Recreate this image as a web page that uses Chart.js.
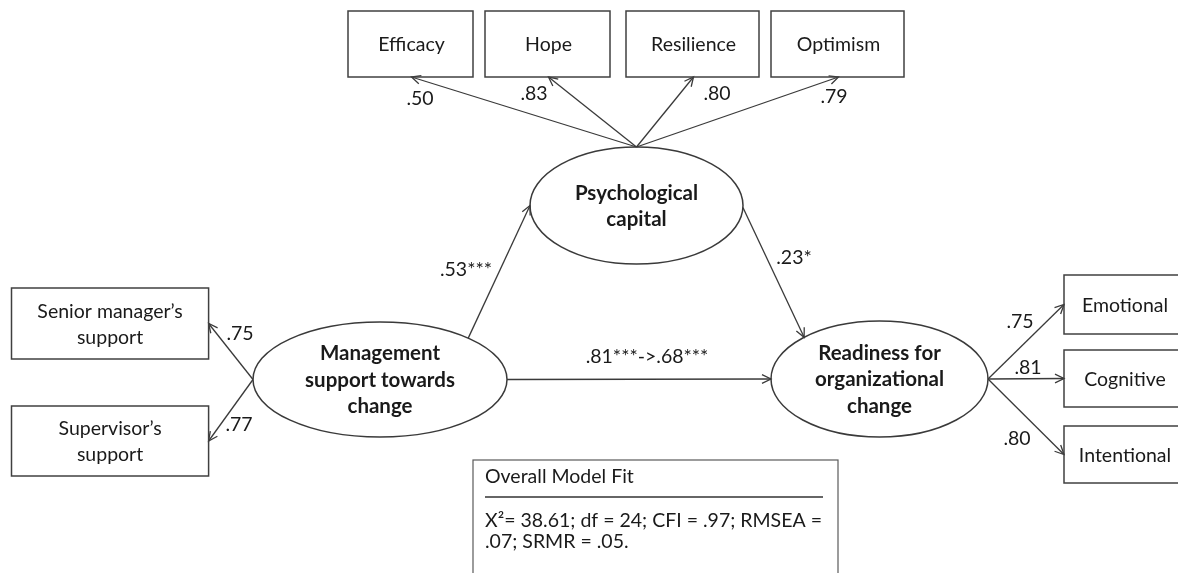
<!DOCTYPE html>
<html>
<head>
<meta charset="utf-8">
<script src="https://cdn.jsdelivr.net/npm/chart.js@4.4.1/dist/chart.umd.min.js"></script>
<style>
  html, body { margin: 0; padding: 0; background: #ffffff; }
  #wrap { width: 1178px; height: 573px; }
</style>
</head>
<body>
<div id="wrap"><canvas id="c" width="1178" height="573"></canvas></div>
<script>
// ---------------- DATA ----------------
const latentNames = {
  psy: ['Psychological', 'capital'],
  mgmt: ['Management', 'support towards', 'change'],
  ready: ['Readiness for', 'organizational', 'change']
};
const psyIndicators = ['Efficacy', 'Hope', 'Resilience', 'Optimism'];
const psyLoadings = ['.50', '.83', '.80', '.79'];
const mgmtIndicators = [['Senior manager\u2019s', 'support'], ['Supervisor\u2019s', 'support']];
const mgmtLoadings = ['.75', '.77'];
const readyIndicators = ['Emotional', 'Cognitive', 'Intentional'];
const readyLoadings = ['.75', '.81', '.80'];
const pathCoefs = { mgmtPsy: '.53***', psyReady: '.23*', mgmtReady: '.81***->.68***' };
const fitTitle = 'Overall Model Fit';
const fitLines = ['X\u00b2= 38.61; df = 24; CFI = .97; RMSEA =', '.07; SRMR = .05.'];

// ---------------- LAYOUT (diagram units on the chart's x/y scales) ----------------
const W = 1178, H = 573;
const ellipses = {
  psy:   { cx: 636.5, cy: 205.5, rx: 106.5, ry: 58.5, lineGap: 26 },
  mgmt:  { cx: 380,   cy: 379.5, rx: 127,   ry: 57.5, lineGap: 26.5 },
  ready: { cx: 879.5, cy: 379,   rx: 108.5, ry: 58,   lineGap: 26.5 }
};
const psyBoxes = [ {x0:348,x1:473}, {x0:485,x1:610}, {x0:626,x1:759}, {x0:771,x1:904} ].map(b => ({...b, y0:11, y1:77}));
const mgmtBoxes = [ {x0:11.5,x1:208.6,y0:288,y1:359}, {x0:11.5,x1:208.6,y0:406,y1:476} ];
const readyBoxes = [ {y0:275,y1:334}, {y0:350,y1:407}, {y0:426,y1:483} ].map(b => ({...b, x0:1064, x1:1200}));
const readyTextX = 1125;
const psyLoadPos = [ [420,99], [534,94], [717,94], [834,97] ];
const mgmtLoadPos = [ [240,334], [239,425] ];
const readyLoadPos = [ [1020,322], [1028,368], [1017,439] ];
const pathLabelPos = { mgmtPsy: [466,270], psyReady: [794,258], mgmtReady: [647,357] };
const fitBox = { x0: 473, x1: 838, y0: 460, y1: 600, padX: 12, titleY: 477, ruleY: 497, ruleX1: 823, lineYs: [521, 542] };

function ePoint(e, deg) {
  const a = deg * Math.PI / 180;
  return { x: e.cx + e.rx * Math.cos(a), y: e.cy + e.ry * Math.sin(a) };
}

// Edges (from -> to, arrowhead at "to")
const edges = [];
psyBoxes.forEach(b => edges.push([ePoint(ellipses.psy, -90), { x: (b.x0 + b.x1) / 2 + 1, y: b.y1 }]));
mgmtBoxes.forEach(b => edges.push([ePoint(ellipses.mgmt, 180), { x: b.x1, y: (b.y0 + b.y1) / 2 }]));
readyBoxes.forEach(b => edges.push([ePoint(ellipses.ready, 0), { x: b.x0, y: (b.y0 + b.y1) / 2 }]));
edges.push([ePoint(ellipses.mgmt, -46), ePoint(ellipses.psy, 180)]);
edges.push([ePoint(ellipses.psy, 2), ePoint(ellipses.ready, -134)]);
edges.push([ePoint(ellipses.mgmt, 0), ePoint(ellipses.ready, 180)]);

const LINE = '#3a3a3a';
const TEXT = '#1a1a1a';
const FONT = 'Lato, "Open Sans", sans-serif';

const datasets = edges.map(e => ({
  type: 'scatter',
  data: [ { x: e[0].x, y: e[0].y }, { x: e[1].x, y: e[1].y } ],
  showLine: true,
  borderColor: LINE,
  borderWidth: 1.3,
  pointRadius: 0,
  fill: false
}));

const diagramPlugin = {
  id: 'diagram',
  beforeDraw(chart) {
    const ctx = chart.ctx;
    ctx.save();
    ctx.fillStyle = '#ffffff';
    ctx.fillRect(0, 0, chart.width, chart.height);
    ctx.restore();
  },
  afterDatasetsDraw(chart) {
    const ctx = chart.ctx;
    const sx = chart.scales.x, sy = chart.scales.y;
    const X = v => sx.getPixelForValue(v);
    const Y = v => sy.getPixelForValue(v);
    ctx.save();

    // arrowheads
    ctx.strokeStyle = LINE;
    ctx.lineWidth = 1.3;
    edges.forEach(e => {
      const x1 = X(e[0].x), y1 = Y(e[0].y), x2 = X(e[1].x), y2 = Y(e[1].y);
      const ang = Math.atan2(y2 - y1, x2 - x1);
      const L = 10, A = 0.45;
      ctx.beginPath();
      ctx.moveTo(x2 - L * Math.cos(ang - A), y2 - L * Math.sin(ang - A));
      ctx.lineTo(x2, y2);
      ctx.lineTo(x2 - L * Math.cos(ang + A), y2 - L * Math.sin(ang + A));
      ctx.stroke();
    });

    function box(b, stroke, lw) {
      ctx.strokeStyle = stroke || '#404040';
      ctx.lineWidth = lw || 1.5;
      ctx.strokeRect(X(b.x0), Y(b.y0), X(b.x1) - X(b.x0), Y(b.y1) - Y(b.y0));
    }
    function text(str, x, y, font, align) {
      ctx.font = font;
      ctx.fillStyle = TEXT;
      ctx.textAlign = align || 'center';
      ctx.textBaseline = 'middle';
      ctx.fillText(str, X(x), Y(y));
    }
    const reg = '19.5px ' + FONT;
    const bold = 'bold 20.5px ' + FONT;

    psyBoxes.forEach((b, i) => {
      box(b);
      text(psyIndicators[i], (b.x0 + b.x1) / 2 + 1, (b.y0 + b.y1) / 2 + 1, reg);
      text(psyLoadings[i], psyLoadPos[i][0], psyLoadPos[i][1], reg);
    });
    mgmtBoxes.forEach((b, i) => {
      box(b);
      const c = (b.y0 + b.y1) / 2 + 1;
      text(mgmtIndicators[i][0], (b.x0 + b.x1) / 2, c - 13, reg);
      text(mgmtIndicators[i][1], (b.x0 + b.x1) / 2, c + 13, reg);
      text(mgmtLoadings[i], mgmtLoadPos[i][0], mgmtLoadPos[i][1], reg);
    });
    readyBoxes.forEach((b, i) => {
      box(b);
      text(readyIndicators[i], readyTextX, (b.y0 + b.y1) / 2 + 1, reg);
      text(readyLoadings[i], readyLoadPos[i][0], readyLoadPos[i][1], reg);
    });

    Object.keys(ellipses).forEach(k => {
      const e = ellipses[k];
      ctx.beginPath();
      ctx.strokeStyle = '#3a3a3a';
      ctx.lineWidth = 1.5;
      ctx.ellipse(X(e.cx), Y(e.cy), X(e.cx + e.rx) - X(e.cx), Math.abs(Y(e.cy + e.ry) - Y(e.cy)), 0, 0, Math.PI * 2);
      ctx.stroke();
      const lines = latentNames[k];
      const n = lines.length;
      lines.forEach((ln, j) => {
        text(ln, e.cx, e.cy + (j - (n - 1) / 2) * e.lineGap + 0.5, bold);
      });
    });

    Object.keys(pathCoefs).forEach(k => {
      text(pathCoefs[k], pathLabelPos[k][0], pathLabelPos[k][1], reg);
    });

    box(fitBox, '#5a5a5a', 1.2);
    text(fitTitle, fitBox.x0 + fitBox.padX, fitBox.titleY, reg, 'left');
    ctx.strokeStyle = '#333';
    ctx.lineWidth = 1.4;
    ctx.beginPath();
    ctx.moveTo(X(fitBox.x0 + fitBox.padX), Y(fitBox.ruleY));
    ctx.lineTo(X(fitBox.ruleX1), Y(fitBox.ruleY));
    ctx.stroke();
    fitLines.forEach((ln, i) => text(ln, fitBox.x0 + fitBox.padX, fitBox.lineYs[i], reg, 'left'));

    ctx.restore();
  }
};

new Chart(document.getElementById('c'), {
  type: 'scatter',
  data: { datasets },
  options: {
    responsive: false,
    animation: false,
    events: [],
    layout: { padding: 0 },
    plugins: { legend: { display: false }, tooltip: { enabled: false } },
    scales: {
      x: { type: 'linear', min: 0, max: W, display: false },
      y: { type: 'linear', min: 0, max: H, reverse: true, display: false }
    }
  },
  plugins: [diagramPlugin]
});
</script>
</body>
</html>
